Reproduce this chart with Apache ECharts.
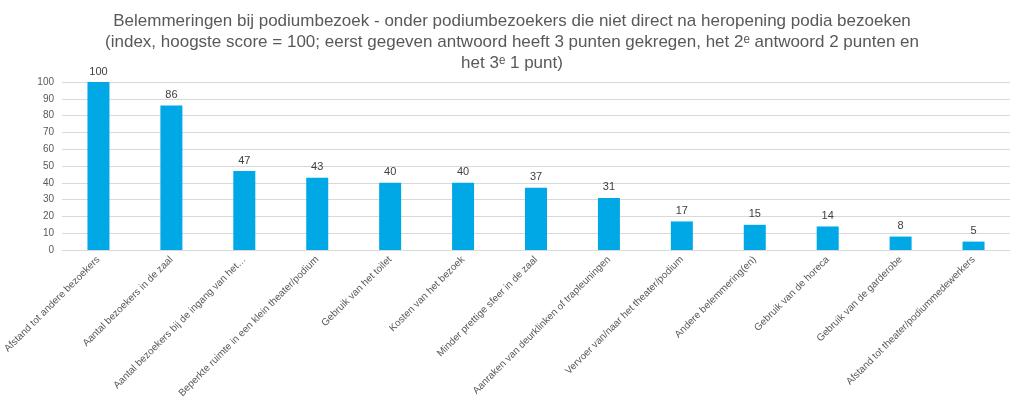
<!DOCTYPE html>
<html>
<head>
<meta charset="utf-8">
<script src="https://cdn.jsdelivr.net/npm/echarts@6/dist/echarts.min.js"></script>
<style>html,body{margin:0;padding:0;background:#fff}#main{width:1024px;height:416px}</style>
</head>
<body>
<div id="main"></div>
<script>
var categories = ['Afstand tot andere bezoekers', 'Aantal bezoekers in de zaal', 'Aantal bezoekers bij de ingang van het…',
    'Beperkte ruimte in een klein theater/podium', 'Gebruik van het toilet', 'Kosten van het bezoek',
    'Minder prettige sfeer in de zaal', 'Aanraken van deurklinken of trapleuningen', 'Vervoer van/naar het theater/podium',
    'Andere belemmering(en)', 'Gebruik van de horeca', 'Gebruik van de garderobe', 'Afstand tot theater/podiummedewerkers'];
var values = [100, 86, 47, 43, 40, 40, 37, 31, 17, 15, 14, 8, 5];
var yTicks = {min: 0, max: 100, interval: 10};

var mychart = echarts.init(document.getElementById('main'));
var option = {
    title: {
        text: 'Belemmeringen bij podiumbezoek - onder podiumbezoekers die niet direct na heropening podia bezoeken\n(index, hoogste score = 100; eerst gegeven antwoord heeft 3 punten gekregen, het 2ᵉ antwoord 2 punten en\nhet 3ᵉ 1 punt)',
        left: 'center',
        top: 6,
        textStyle: {fontFamily: 'Liberation Sans', fontSize: 17, fontWeight: 'normal', color: '#595959', lineHeight: 21, align: 'center'}
    },
    grid: {left: 62, right: 14, top: 82, bottom: 166},
    xAxis: {
        type: 'category',
        data: categories,
        axisTick: {show: false},
        axisLine: {lineStyle: {color: '#d9d9d9'}},
        axisLabel: {rotate: 45, interval: 0, fontSize: 10, color: '#595959', fontFamily: 'Liberation Sans', margin: 8}
    },
    yAxis: {
        type: 'value',
        min: yTicks.min, max: yTicks.max, interval: yTicks.interval,
        axisLabel: {fontSize: 10, color: '#595959', fontFamily: 'Liberation Sans'},
        splitLine: {lineStyle: {color: '#d9d9d9'}}
    },
    series: [{
        type: 'bar',
        data: values,
        barWidth: 22,
        itemStyle: {color: '#00a9e6'},
        label: {show: true, position: 'top', fontSize: 11, color: '#404040', fontFamily: 'Liberation Sans'}
    }]
};
mychart.setOption(option);
</script>
</body>
</html>
